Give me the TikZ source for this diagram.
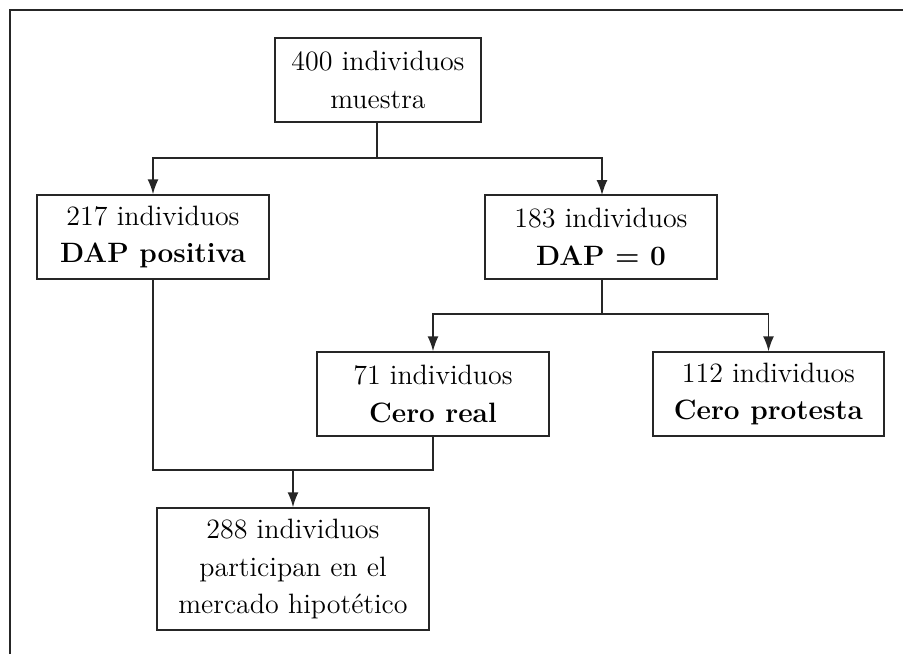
\documentclass[tikz,border=0pt]{standalone}
\usetikzlibrary{arrows.meta}

\tikzset{
  caja/.style={draw=black!85, line width=0.75pt, rectangle, align=center,
    inner sep=0pt, font=\fontsize{14}{18.7}\selectfont},
  flecha/.style={draw=black!85, line width=0.75pt, -{Latex[length=7.5pt,width=5.5pt]}},
  linea/.style={draw=black!85, line width=0.75pt}
}

\begin{document}
\begin{tikzpicture}[x=0.5pt, y=-0.5pt]
\useasboundingbox (0,0) rectangle (903,654);
%\draw[very thin,color=gray] (0,0) grid (903,654);
\draw[linea] (10,654) -- (10,10) -- (903,10);

\node[caja, minimum width=103pt, minimum height=42pt] (muestra) at (378,80) {400 individuos\\muestra};
\node[caja, minimum width=116pt, minimum height=42pt] (positiva) at (153,237) {217 individuos\\\textbf{DAP positiva}};
\node[caja, minimum width=116pt, minimum height=42pt] (cero) at (601,237) {183 individuos\\\textbf{DAP = 0}};
\node[caja, minimum width=116pt, minimum height=42pt] (real) at (433,394) {71 individuos\\\textbf{Cero real}};
\node[caja, minimum width=115.5pt, minimum height=42pt] (protesta) at (768.5,394) {112 individuos\\\textbf{Cero protesta}};
\node[caja, minimum width=136pt, minimum height=61pt] (mercado) at (293,569) {288 individuos\\participan en el\\mercado hipot\'etico};

% ramas
\coordinate (j1) at (377,158);
\coordinate (j2) at (602,314);
\coordinate (j3) at (293,470);

\draw[linea] (muestra.south -| j1) -- (j1);
\draw[flecha] (j1) -| (positiva.north);
\draw[flecha] (j1) -| (602,195);

\draw[linea] (cero.south -| j2) -- (j2);
\draw[flecha] (j2) -| (real.north);
\draw[flecha] (j2) -| (protesta.north);

\draw[linea] (positiva.south) |- (j3);
\draw[linea] (real.south) |- (j3);
\draw[flecha] (j3) -- (mercado.north);

\end{tikzpicture}
\end{document}
